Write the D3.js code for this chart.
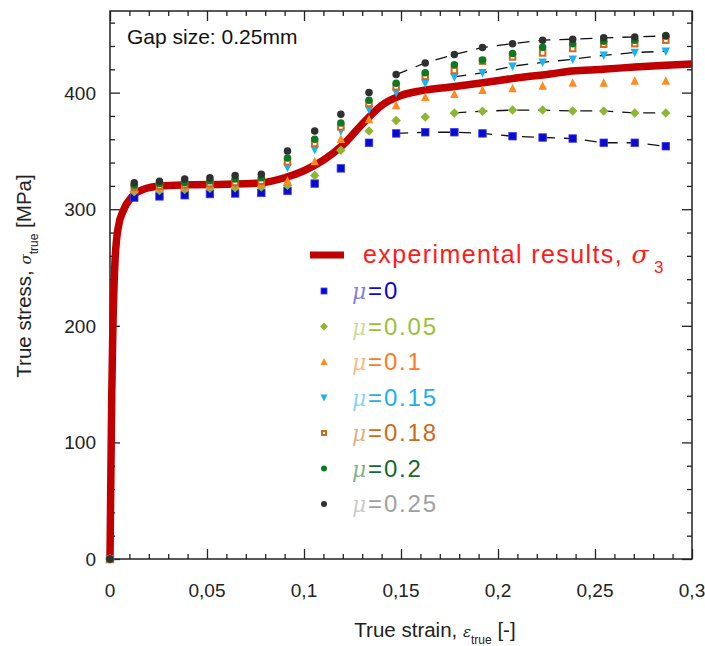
<!DOCTYPE html>
<html><head><meta charset="utf-8">
<script src="https://cdn.jsdelivr.net/npm/d3@7/dist/d3.min.js"></script>
<style>body{margin:0;background:#fff}svg{display:block}</style>
</head><body><svg id="c" width="705" height="646"></svg>
<script>
// ---- data ----
const strain = [0,0.0125,0.0255,0.0385,0.0515,0.0645,0.078,0.0915,0.1055,0.119,0.1335,0.1475,0.1625,0.1775,0.192,0.2075,0.223,0.2385,0.2545,0.2705,0.2865];
const mu0   = [0,310,311,312,313,313.5,314,315.7,322,335,357,365,366,366,365,362.6,361.5,360.6,357,357,354];
const mu005 = [0,315,316,317,318,318.5,319,320.6,329,350.6,367,376,379,382.6,384,385,385,384.3,384.3,382.6,382.6];
const mu01  = [0,317,318,319,320,321,322,324.3,341,360,377,389,396,398.6,402,403.5,405.7,408.3,408.3,410,410];
const mu015 = [0,318,319,320,321,322,323,335.8,351,367,385.5,400,408,413.5,417,422.6,426,428.6,432,434.4,435.5];
const mu018 = [0,319,320,321,322,323,324,340.6,356.4,370.6,390.7,405,414,419,427,430.6,434,437.8,441.5,442,445];
const mu02  = [0,320.5,322,323,324.5,326,327,344,360,374,393.5,408,417,424,428,433.5,439,442,444,445,449];
const mu025 = [0,322.6,324,326,327,329,330,350,367,381.5,400,415.5,425.5,432.7,438.7,442,445,445.8,447,447.8,448.6];
const expStrain = [0,0.0005,0.0009,0.0014,0.0026,0.0043,0.0069,0.0112,0.0189,0.0258,0.04,0.06,0.0774,0.09,0.1,0.11,0.12,0.13,0.14,0.15,0.16,0.1768,0.1923,0.2072,0.2268,0.2381,0.2541,0.2706,0.2866,0.3];
const expStress = [0,80,140,190,256,285,299,310.5,318,320,321,321.5,322.5,327,333,342,355,373,389,397.5,401.5,405,408.5,412,416,418.5,420,422,423.5,424.5];
const xTicks = [0,0.05,0.1,0.15,0.2,0.25,0.3];
const xTickLabels = ["0","0,05","0,1","0,15","0,2","0,25","0,3"];
const yTicks = [0,100,200,300,400];
const seriesNames = ["0","0.05","0.1","0.15","0.18","0.2","0.25"];

// ---- layout ----
const W=705,H=646, L=110, T=11, R=692, B=559;
const svg = d3.select("#c");
const x = d3.scaleLinear().domain([0,0.3]).range([L,R]);
const y = d3.scaleLinear().domain([0,470]).range([B,T]);
const font = "Liberation Sans, Arial, sans-serif";

// axes: ticks inward on all 4 sides
const minorX = d3.range(0,0.3001,0.01).filter(v=>Math.abs(v/0.05-Math.round(v/0.05))>1e-6);
const minorY = d3.range(0,470,20).filter(v=>v%100!==0);
function axisSet(axisFn, scale, ticks, len, tr){
  const g = svg.append("g").attr("transform",tr)
    .call(axisFn(scale).tickValues(ticks).tickSize(len).tickFormat(""));
  g.select(".domain").remove();
  g.selectAll("line").attr("stroke","#222").attr("stroke-width",1.3);
  return g;
}
axisSet(d3.axisTop, x, xTicks, 10, `translate(0,${B})`);
axisSet(d3.axisTop, x, minorX, 5, `translate(0,${B})`);
axisSet(d3.axisBottom, x, xTicks, 10, `translate(0,${T})`);
axisSet(d3.axisBottom, x, minorX, 5, `translate(0,${T})`);
axisSet(d3.axisRight, y, yTicks, 10, `translate(${L},0)`);
axisSet(d3.axisRight, y, minorY, 5, `translate(${L},0)`);
axisSet(d3.axisLeft, y, yTicks, 10, `translate(${R},0)`);
axisSet(d3.axisLeft, y, minorY, 5, `translate(${R},0)`);
svg.append("rect").attr("x",L).attr("y",T).attr("width",R-L).attr("height",B-T)
  .attr("fill","none").attr("stroke","#222").attr("stroke-width",1.5);

// tick labels
svg.append("g").selectAll("text").data(xTicks).join("text")
  .attr("x",d=>x(d)).attr("y",597).attr("text-anchor","middle")
  .attr("font-family",font).attr("font-size",19).attr("fill","#222")
  .text((d,i)=>xTickLabels[i]);
svg.append("g").selectAll("text").data(yTicks).join("text")
  .attr("x",96).attr("y",d=>y(d)+7).attr("text-anchor","end")
  .attr("font-family",font).attr("font-size",19).attr("fill","#222")
  .text(d=>d);

// axis titles
const xt = svg.append("text").attr("x",435).attr("y",637).attr("text-anchor","middle")
  .attr("font-family",font).attr("font-size",20.5).attr("fill","#222");
xt.append("tspan").text("True strain, ");
xt.append("tspan").attr("font-style","italic").attr("font-family","DejaVu Serif, serif").attr("font-size",15).text("ε");
xt.append("tspan").attr("font-size",12).attr("dy",7).text("true");
xt.append("tspan").attr("dy",-7).text(" [-]");

const yt = svg.append("text").attr("transform","translate(31,276) rotate(-90)").attr("text-anchor","middle")
  .attr("font-family",font).attr("font-size",20.5).attr("fill","#222");
yt.append("tspan").text("True stress,  ");
yt.append("tspan").attr("font-style","italic").attr("font-family","DejaVu Serif, serif").attr("font-size",15).text("σ");
yt.append("tspan").attr("font-size",12).attr("dy",7).text("true");
yt.append("tspan").attr("dy",-7).text(" [MPa]");

svg.append("text").attr("x",127).attr("y",44).attr("font-family",font).attr("font-size",21)
  .attr("fill","#111").text("Gap size: 0.25mm");

// experimental curve
const expData = expStrain.map((s,i)=>[s,expStress[i]]);
svg.append("path").datum(expData)
  .attr("d", d3.line().x(d=>x(d[0])).y(d=>y(d[1])).curve(d3.curveMonotoneX))
  .attr("fill","none").attr("stroke","#c00000").attr("stroke-width",7.5);

// simulation series
const series = [
  {name:seriesNames[0], vals:mu0,   color:"#0a0acc", text:"#0a0acc", sym:"square",  dashFrom:11},
  {name:seriesNames[1], vals:mu005, color:"#8ab833", text:"#9cc03c", sym:"diamond", dashFrom:13},
  {name:seriesNames[2], vals:mu01,  color:"#ff8a1e", text:"#ff7a20", sym:"triup",   dashFrom:null},
  {name:seriesNames[3], vals:mu015, color:"#18b4f0", text:"#22aeea", sym:"tridown", dashFrom:13},
  {name:seriesNames[4], vals:mu018, color:"#d2691e", text:"#cc6a1a", sym:"opensq",  dashFrom:null},
  {name:seriesNames[5], vals:mu02,  color:"#0b7a22", text:"#146a2a", sym:"circle",  dashFrom:null},
  {name:seriesNames[6], vals:mu025, color:"#303030", text:"#a0a0a0", sym:"circle",  dashFrom:11},
];

// dashed fit lines
const line = d3.line().x(d=>x(d[0])).y(d=>y(d[1]));
series.forEach(s=>{
  if(s.dashFrom==null) return;
  const pts = strain.map((e,i)=>[e,s.vals[i]]).slice(s.dashFrom);
  svg.append("path").datum(pts).attr("d",line).attr("fill","none")
    .attr("stroke","#111").attr("stroke-width",1.3).attr("stroke-dasharray","12,9");
});

function drawSym(g, sym, cx, cy, color, sz){
  const h=sz/2;
  if(sym==="square"){
    g.append("rect").attr("x",cx-h).attr("y",cy-h).attr("width",sz).attr("height",sz)
      .attr("fill",color).attr("stroke","#3a3aff").attr("stroke-width",0.8);
  } else if(sym==="opensq"){
    g.append("rect").attr("x",cx-h+1).attr("y",cy-h+1).attr("width",sz-2).attr("height",sz-2)
      .attr("fill","#fff").attr("stroke",color).attr("stroke-width",2);
  } else if(sym==="diamond"){
    g.append("path").attr("d",`M${cx},${cy-h-1}L${cx+h+1},${cy}L${cx},${cy+h+1}L${cx-h-1},${cy}Z`).attr("fill",color);
  } else if(sym==="triup"){
    g.append("path").attr("d",`M${cx},${cy-h-1}L${cx+h+0.5},${cy+h}L${cx-h-0.5},${cy+h}Z`).attr("fill",color);
  } else if(sym==="tridown"){
    g.append("path").attr("d",`M${cx},${cy+h+1}L${cx+h+0.5},${cy-h}L${cx-h-0.5},${cy-h}Z`).attr("fill",color);
  } else {
    g.append("circle").attr("cx",cx).attr("cy",cy).attr("r",h).attr("fill",color);
  }
}
series.forEach(s=>{
  const g = svg.append("g");
  strain.forEach((e,i)=>drawSym(g, s.sym, x(e), y(s.vals[i]), s.color, 7.5));
});

// legend
const lg = svg.append("g");
lg.append("line").attr("x1",310).attr("x2",344).attr("y1",255).attr("y2",255)
  .attr("stroke","#c00000").attr("stroke-width",7);
const lt = lg.append("text").attr("x",363).attr("y",263).attr("font-family",font)
  .attr("font-size",25).attr("fill","#ff1a1a").attr("letter-spacing",1.4);
lt.append("tspan").text("experimental results, ");
lt.append("tspan").attr("font-style","italic").attr("font-family","DejaVu Serif, serif").text("σ");
lt.append("tspan").attr("font-size",17).attr("dy",10).attr("dx",4).text("3");

series.forEach((s,i)=>{
  const cy = 291 + i*35.5;
  drawSym(lg, s.sym, 324, cy, s.color, 6);
  const t = lg.append("text").attr("x",352).attr("y",cy+8).attr("font-family",font)
    .attr("font-size",24).attr("fill",s.text).attr("letter-spacing",1.8);
  t.append("tspan").attr("font-style","italic").attr("font-family","DejaVu Serif, serif")
    .attr("font-size",22).attr("fill-opacity",0.55).text("μ");
  t.append("tspan").text("="+s.name);
});
</script></body></html>
